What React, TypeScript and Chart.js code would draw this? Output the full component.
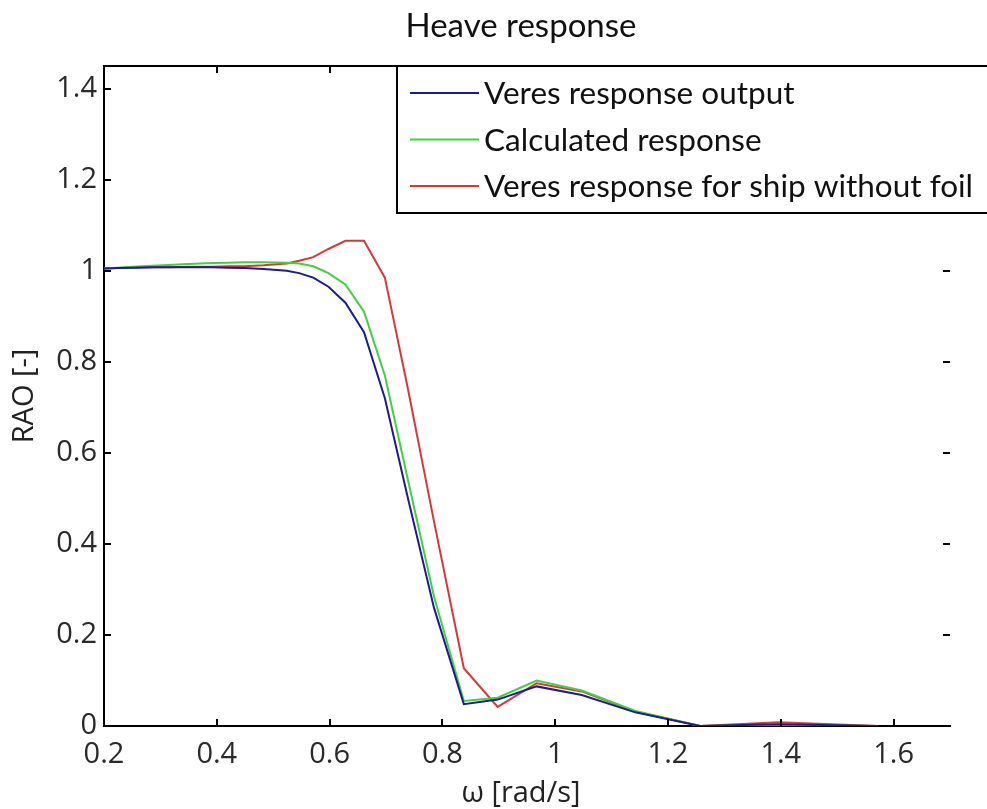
import React, { useEffect, useRef } from "react";
import { Chart, registerables } from "chart.js";

Chart.register(...registerables);

// Wave frequency (rad/s)
const OMEGA = [
  0.2, 0.224, 0.251, 0.286, 0.314, 0.349, 0.393, 0.419, 0.449, 0.483, 0.524,
  0.546, 0.571, 0.598, 0.628, 0.661, 0.698, 0.739, 0.785, 0.838, 0.898, 0.967,
  1.047, 1.142, 1.257, 1.396, 1.571,
];

// Heave RAO, Veres output
const RAO_VERES = [
  1.005, 1.006, 1.007, 1.008, 1.008, 1.008, 1.008, 1.007, 1.006, 1.004, 1.0,
  0.995, 0.985, 0.965, 0.93, 0.865, 0.72, 0.5, 0.26, 0.048, 0.058, 0.087,
  0.068, 0.03, 0.0, 0.004, 0.0,
];

// Heave RAO, calculated
const RAO_CALC = [
  1.005, 1.007, 1.009, 1.011, 1.013, 1.015, 1.017, 1.018, 1.019, 1.019, 1.018,
  1.016, 1.01, 0.995, 0.97, 0.91, 0.77, 0.54, 0.285, 0.055, 0.062, 0.1,
  0.078, 0.033, 0.0, 0.003, 0.0,
];

// Heave RAO, Veres, hull without foil
const RAO_NO_FOIL = [
  1.005, 1.006, 1.007, 1.008, 1.008, 1.009, 1.009, 1.01, 1.01, 1.012, 1.016,
  1.022, 1.03, 1.048, 1.066, 1.066, 0.985, 0.74, 0.45, 0.127, 0.042, 0.094,
  0.076, 0.032, 0.0, 0.008, 0.0,
];

const X_TICKS = [0.2, 0.4, 0.6, 0.8, 1.0, 1.2, 1.4, 1.6];
const Y_TICKS = [0, 0.2, 0.4, 0.6, 0.8, 1.0, 1.2, 1.4];

const SERIES_NAMES = [
  "Veres response output",
  "Calculated response",
  "Veres response for ship without foil",
];
const SERIES_COLORS = ["#1c1c8e", "#3fd23f", "#d23a3a"];

const TITLE = "Heave response";
const X_TITLE = "\u03c9 [rad/s]";
const Y_TITLE = "RAO [-]";

const W = 987;
const H = 809;
const TEXT_FONT = "Lato, 'Open Sans', sans-serif";
const TICK_FONT = "'Open Sans', sans-serif";

const fmt = (v: number) => String(Number(v.toFixed(1)));

// Inward ticks, top spine, boxed legend and all titles
const framePlugin = {
  id: "frame",
  afterDraw(chart: any) {
    const { ctx, chartArea: a, scales } = chart;
    const xs = scales.x;
    const ys = scales.y;
    const tl = 7;
    ctx.save();
    ctx.strokeStyle = "#000";
    ctx.lineWidth = 2;
    ctx.beginPath();
    for (const t of X_TICKS) {
      const px = Math.round(xs.getPixelForValue(t));
      ctx.moveTo(px, a.bottom);
      ctx.lineTo(px, a.bottom - tl);
      ctx.moveTo(px, a.top);
      ctx.lineTo(px, a.top + tl);
    }
    for (const t of Y_TICKS) {
      const py = Math.round(ys.getPixelForValue(t));
      ctx.moveTo(a.left, py);
      ctx.lineTo(a.left + tl, py);
      ctx.moveTo(a.right - tl, py);
      ctx.lineTo(a.right, py);
    }
    // top spine
    ctx.moveTo(a.left - 1, a.top);
    ctx.lineTo(a.right, a.top);
    ctx.stroke();

    // legend box
    const lx = 397;
    const ly = a.top;
    const lh = 147;
    ctx.fillStyle = "#fff";
    ctx.fillRect(lx, ly, W - lx + 5, lh);
    ctx.strokeRect(lx, ly, W - lx + 5, lh);
    ctx.font = `31.5px ${TEXT_FONT}`;
    ctx.textBaseline = "middle";
    ctx.textAlign = "left";
    SERIES_NAMES.forEach((name, i) => {
      const yy = ly + 27 + i * 46.5;
      ctx.strokeStyle = SERIES_COLORS[i];
      ctx.lineWidth = 2;
      ctx.beginPath();
      ctx.moveTo(410, yy);
      ctx.lineTo(479, yy);
      ctx.stroke();
      ctx.fillStyle = "#111";
      ctx.fillText(name, 484, yy + 1);
    });

    // titles
    ctx.fillStyle = "#111";
    ctx.textAlign = "center";
    ctx.textBaseline = "alphabetic";
    ctx.font = `33px ${TEXT_FONT}`;
    ctx.fillText(TITLE, 521, 37);
    ctx.font = `29px ${TICK_FONT}`;
    ctx.fillStyle = "#222";
    ctx.fillText(X_TITLE, 521, 802);
    ctx.translate(33, (a.top + a.bottom) / 2);
    ctx.rotate(-Math.PI / 2);
    ctx.fillText(Y_TITLE, 0, 0);
    ctx.restore();
  },
};

export default function App() {
  const ref = useRef<HTMLCanvasElement | null>(null);

  useEffect(() => {
    document.body.style.margin = "0";
    const canvas = ref.current;
    if (!canvas) return;
    const chart = new Chart(canvas, {
      type: "line",
      data: {
        datasets: [RAO_VERES, RAO_CALC, RAO_NO_FOIL].map((arr, i) => ({
          label: SERIES_NAMES[i],
          data: OMEGA.map((x, k) => ({ x, y: arr[k] })),
          borderColor: SERIES_COLORS[i],
          borderWidth: 2,
          pointRadius: 0,
          tension: 0,
          fill: false,
        })),
      },
      options: {
        animation: false,
        responsive: false,
        events: [],
        layout: { padding: { top: 66, right: 37, left: 0, bottom: 0 } },
        plugins: {
          legend: { display: false },
          title: { display: false },
          tooltip: { enabled: false },
        },
        scales: {
          x: {
            type: "linear",
            min: 0.2,
            max: 1.7,
            afterFit: (s: any) => {
              s.height = H - 726;
            },
            afterBuildTicks: (s: any) => {
              s.ticks = X_TICKS.map((value) => ({ value }));
            },
            grid: { display: false, drawTicks: false },
            border: { display: true, color: "#000", width: 2 },
            ticks: {
              padding: 11,
              color: "#2a2a2a",
              font: { family: TICK_FONT, size: 29 },
              callback: (v: any) => fmt(Number(v)),
              maxRotation: 0,
              autoSkip: false,
            },
          },
          y: {
            type: "linear",
            min: 0,
            max: 1.45,
            afterFit: (s: any) => {
              s.width = 104;
            },
            afterBuildTicks: (s: any) => {
              s.ticks = Y_TICKS.map((value) => ({ value }));
            },
            grid: { display: false, drawTicks: false },
            border: { display: true, color: "#000", width: 2 },
            ticks: {
              padding: 7,
              color: "#2a2a2a",
              font: { family: TICK_FONT, size: 29 },
              callback: (v: any) => fmt(Number(v)),
              autoSkip: false,
            },
          },
        },
      },
      plugins: [framePlugin],
    });
    return () => chart.destroy();
  }, []);

  return (
    <div style={{ position: "absolute", left: 0, top: 0, width: W, height: H, background: "#fff" }}>
      <canvas ref={ref} width={W} height={H} style={{ display: "block" }} />
    </div>
  );
}
